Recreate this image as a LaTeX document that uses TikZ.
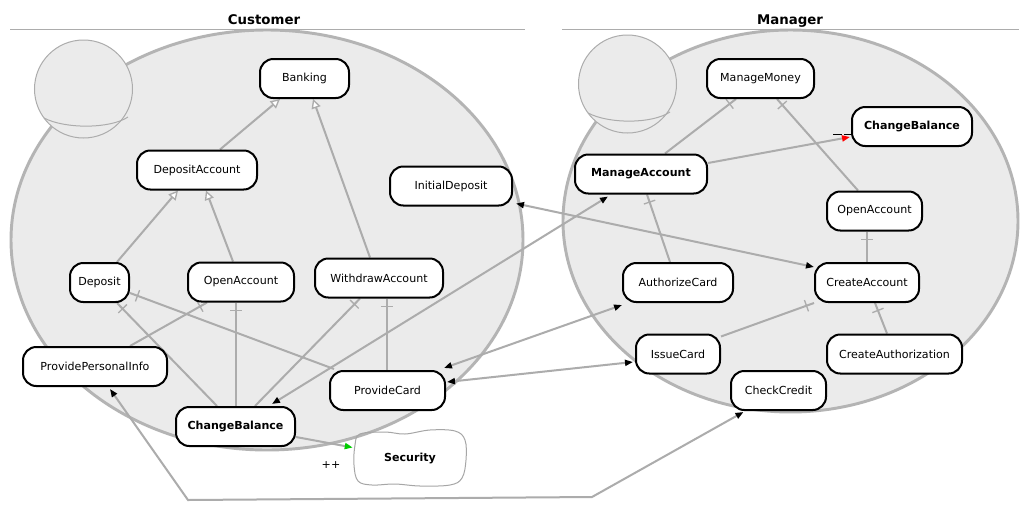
\documentclass[tikz,border=0pt]{standalone}
\usepackage{fontspec}
\setmainfont{DejaVu Sans}
\usepackage{tikz}
\usetikzlibrary{arrows.meta,calc,decorations.markings}
\definecolor{linegray}{HTML}{ACACAC}
\definecolor{roomgray}{HTML}{EBEBEB}
\definecolor{rimgray}{HTML}{B4B4B4}
\pgfdeclarelayer{back}
\pgfdeclarelayer{wires}
\pgfsetlayers{back,wires,main}
\tikzset{>={Triangle[color=black,length=6pt,width=4.5pt]}}
\tikzset{
  usecase/.style={draw=black, line width=1.5pt, fill=white, rounded corners=10pt,
    minimum height=29.25pt, inner sep=0pt, font=\fontsize{8.3}{10}\selectfont},
  strong/.style={font=\fontsize{8.3}{10}\selectfont\bfseries},
  title/.style={font=\fontsize{10}{12}\selectfont\bfseries},
  room/.style={draw=rimgray, fill=roomgray, line width=2.2pt},
  actor/.style={draw=linegray, fill=roomgray, line width=0.75pt},
  rule/.style={draw=linegray, line width=0.75pt},
  link/.style={draw=linegray, line width=1.5pt},
  gen/.style={link, -{Triangle[fill=white, length=7pt, width=7pt, line width=1pt]}},
  inc/.style={link, postaction={decorate, decoration={markings,
    mark=at position 6pt with {\draw[linegray, line width=1pt] (0,-4.5pt) -- (0,4.5pt);}}}},
  uses/.style={link, <->}
}

\begin{document}
\begin{tikzpicture}[x=0.75pt,y=-0.75pt]
\useasboundingbox (0,0) rectangle (1029,526);

\begin{pgfonlayer}{back}
\fill[white] (0,0) rectangle (1029,526);
%Customer room
\draw[room] (267,240) ellipse [x radius=256, y radius=210];
\draw[actor] (83.5,89) circle [radius=49];
\draw[actor, fill=none] (44,118) .. controls (65,129) and (110,129) .. (128,117);
\draw[rule] (10,29) -- (525,29);

%Manager room
\draw[room] (790.5,221) ellipse [x radius=227.5, y radius=191];
\draw[actor] (627.5,84) circle [radius=49];
\draw[actor, fill=none] (588,113) .. controls (609,124) and (652,124) .. (670,112);
\draw[rule] (562,29) -- (1019,29);

%Security
\draw[actor, fill=none, draw=black!35] plot[smooth cycle, tension=0.6] coordinates {(360,434) (385,432) (405,434) (430,430) (455,431) (465,440) (466,460) (462,478) (450,485) (420,486) (395,484) (372,485) (358,481) (354,465) (355,445)};
\end{pgfonlayer}

\node[title] (custtitle) at (264,20) {Customer};
\node[title] (mantitle) at (790,21) {Manager};

%Customer use cases
\node[usecase, minimum width=66.75pt] (bank) at (304.5,78.5) {Banking};
\node[usecase, minimum width=90pt] (depacc) at (197,170) {DepositAccount};
\node[usecase, minimum width=91.5pt] (initdep) at (451,186) {InitialDeposit};
\node[usecase, minimum width=44.25pt] (deposit) at (99.5,282.5) {Deposit};
\node[usecase, minimum width=79.5pt] (openC) at (241,282) {OpenAccount};
\node[usecase, minimum width=96pt] (withdraw) at (379,278) {WithdrawAccount};
\node[usecase, minimum width=108pt] (ppi) at (95,366.5) {ProvidePersonalInfo};
\node[usecase, minimum width=86.25pt] (provcard) at (387.5,390.5) {ProvideCard};
\node[usecase, strong, minimum width=89.25pt] (cbC) at (235.5,426.5) {ChangeBalance};
\node[strong, minimum width=85.5pt, minimum height=42.75pt] (sec) at (410,458.5) {Security};
\node[font=\fontsize{8.3}{10}\selectfont] (plus) at (331,465) {++};

%Manager use cases
\node[usecase, minimum width=80.25pt] (mmoney) at (760.5,78.5) {ManageMoney};
\node[usecase, strong, minimum width=90pt] (cbM) at (912,126.5) {ChangeBalance};
\node[usecase, strong, minimum width=99pt] (macc) at (641,174) {ManageAccount};
\node[usecase, minimum width=71.25pt] (openM) at (874.5,211) {OpenAccount};
\node[usecase, minimum width=82.5pt] (authcard) at (678,282.5) {AuthorizeCard};
\node[usecase, minimum width=78pt] (createacc) at (867,282.5) {CreateAccount};
\node[usecase, minimum width=63pt] (issue) at (678,354) {IssueCard};
\node[usecase, minimum width=101.25pt] (createauth) at (894.5,354) {CreateAuthorization};
\node[usecase, minimum width=71.25pt] (check) at (778.5,390.5) {CheckCredit};
\draw[black, line width=0.75pt] ($(cbM.west)+(-18,7.5)$) -- ++(9,0) ++(2,0) -- ++(8,0);

\coordinate (bendL) at (188,500);
\coordinate (bendR) at (592,497);

\begin{pgfonlayer}{wires}
%generalizations
\draw[gen] ($(depacc.north)+(23,0)$) -- ($(bank.south)+(-24.5,0)$);
\draw[gen] ($(withdraw.north)+(-9,0)$) -- ($(bank.south)+(8.5,0)$);
\draw[gen] ($(deposit.north)+(17.5,0)$) -- ($(depacc.south)+(-19,0)$);
\draw[gen] ($(openC.north)+(-8,0)$) -- ($(depacc.south)+(9,0)$);

%includes
\draw[inc] ($(deposit.east)+(0,10.5)$) -- ($(provcard.north west)+(5,-1)$);
\draw[inc] ($(deposit.south)+(17.5,0)$) -- ($(cbC.north)+(-18.5,0)$);
\draw[inc] ($(openC.south)+(-5,0)$) -- ($(cbC.north)+(0.5,0)$);
\draw[inc] ($(withdraw.south)+(-19,0)$) -- ($(cbC.north)+(19.5,0)$);
\draw[inc] ($(withdraw.south)+(8,0)$) -- ($(provcard.north)+(-0.5,0)$);
\draw[inc] ($(openC.south)+(-34,0)$) -- ($(ppi.north)+(35,0)$);
\draw[inc] ($(mmoney.south)+(-24.5,0)$) -- ($(macc.north)+(24,0)$);
\draw[inc] ($(mmoney.south)+(16.5,0)$) -- ($(openM.north)+(-16.5,0)$);
\draw[inc] ($(macc.south)+(6,0)$) -- ($(authcard.north)+(-8,0)$);
\draw[inc] ($(openM.south)+(-7.5,0)$) -- (createacc.north);
\draw[inc] (createacc.south west) -- ($(issue.north east)+(0,3)$);
\draw[inc] ($(createacc.south)+(8,0)$) -- ($(createauth.north)+(-7.5,0)$);

%between the actors
\draw[uses] ($(initdep.south east)+(3,-3)$) -- ($(createacc.north west)+(0,5)$);
\draw[uses] ($(cbC.north)+(36.5,-2)$) -- ($(macc.south)+(-33,2)$);
\draw[uses] ($(provcard.north east)+(-2,-2)$) -- ($(authcard.south west)+(0,2)$);
\draw[uses] ($(provcard.east)+(1,-8.5)$) -- ($(issue.west)+(-2,8)$);
\draw[uses] ($(ppi.south)+(15,2)$) -- (bendL) -- (bendR) -- ($(check.south)+(-35,1)$);
\draw[link, -{Triangle[color=red, length=6pt, width=4.5pt]}] ($(macc.east)+(0,-11)$) -- ($(cbM.west)+(-1,10.5)$);
\draw[link, -{Triangle[color=green!80!black, length=6pt, width=4.5pt]}] ($(cbC.east)+(0,10.5)$) -- ($(sec.west)+(0,-11)$);
\end{pgfonlayer}
\end{tikzpicture}
\end{document}
